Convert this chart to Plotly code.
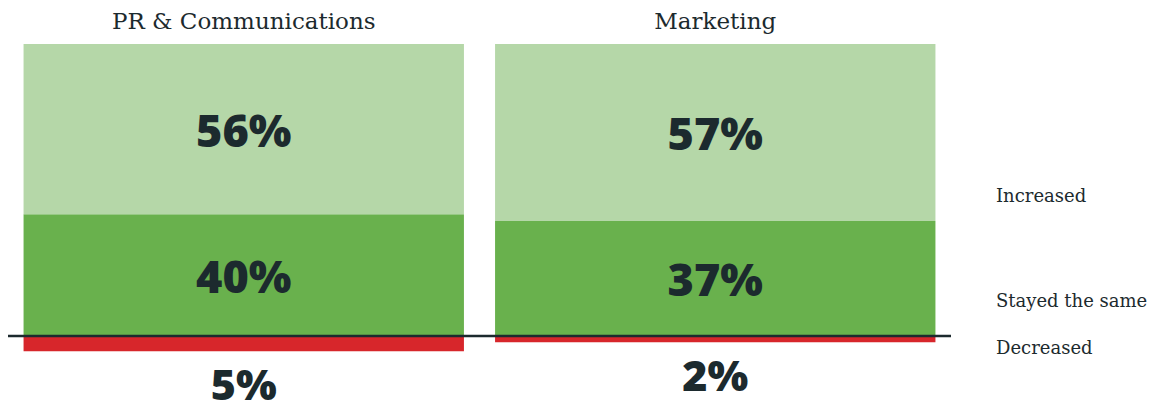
import plotly.graph_objects as go

categories = ["PR & Communications", "Marketing"]
increased = [56, 57]
stayed = [40, 37]
decreased = [5, 2]
legend_labels = ["Increased", "Stayed the same", "Decreased"]

# each column's positive stack is drawn to the same full height
totals = [i + s for i, s in zip(increased, stayed)]
inc_h = [i / t * 100 for i, t in zip(increased, totals)]
sta_h = [s / t * 100 for s, t in zip(stayed, totals)]
dec_h = [-d / t * 100 for d, t in zip(decreased, totals)]

dark = "#1c2a2e"
num_font = dict(family="Open Sans", size=45, color=dark, weight=800)
serif = "DejaVu Serif"

fig = go.Figure()
fig.add_trace(go.Bar(x=categories, y=sta_h, marker_color="#69b14d",
                     text=[f"{v}%" for v in stayed], textposition="inside",
                     insidetextanchor="middle", textfont=num_font, name="Stayed the same"))
fig.add_trace(go.Bar(x=categories, y=inc_h, marker_color="#b5d7a8",
                     text=[f"{v}%" for v in increased], textposition="inside",
                     insidetextanchor="middle", textfont=num_font, name="Increased"))
fig.add_trace(go.Bar(x=categories, y=dec_h, marker_color="#d7262b",
                     text=[f"{v}%" for v in decreased], textposition="outside",
                     textfont=dict(num_font, size=43), cliponaxis=False, name="Decreased"))

for t in fig.data:
    t.marker.line.width = 0

# page body adds an 8px offset, so the figure is 8px smaller and margins compensate
fig.update_layout(
    barmode="relative",
    bargap=0.066,
    width=1155, height=394,
    margin=dict(l=0, r=212, t=36, b=0, autoexpand=False),
    paper_bgcolor="white", plot_bgcolor="white",
    showlegend=False,
    uniformtext=dict(mode=False),
    xaxis=dict(side="top", showgrid=False, zeroline=False, showline=False, ticks="",
               automargin=False, ticklabelstandoff=9,
               tickfont=dict(family=serif, size=23, color=dark)),
    yaxis=dict(range=[-22.6, 100], visible=False, showgrid=False, zeroline=False,
               automargin=False),
)

fig.add_shape(type="line", xref="paper", x0=0, x1=1, y0=0, y1=0,
              line=dict(color=dark, width=2.5), layer="above")

label_y = [48, 12, -3.8]
for lab, yy in zip(legend_labels, label_y):
    fig.add_annotation(text=lab, xref="paper", x=1.046, xanchor="left", y=yy, yref="y",
                       showarrow=False, font=dict(family=serif, size=18, color=dark))

fig.write_html("out.html")
